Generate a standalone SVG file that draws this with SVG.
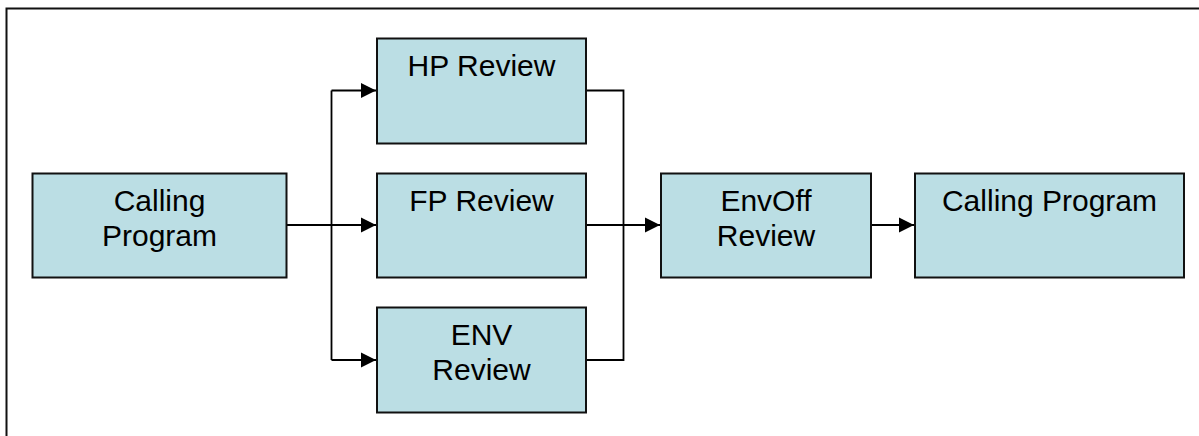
<svg xmlns="http://www.w3.org/2000/svg" width="1199" height="436" viewBox="0 0 1199 436">
  <style>
    .box { fill: #BBDEE4; stroke: #111; stroke-width: 2; }
    .lbl { font-family: "Liberation Sans", Arial, sans-serif; font-size: 30px; fill: #000; text-anchor: middle; }
    .wire { fill: none; stroke: #000; stroke-width: 1.8; }
  </style>
  <defs>
    <marker id="arrow" markerUnits="userSpaceOnUse" markerWidth="15" markerHeight="16" refX="15" refY="8" orient="auto">
      <path d="M0,0.5 L15,8 L0,15.5 Z" fill="#000"/>
    </marker>
  </defs>
  <rect width="1199" height="436" fill="#fff"/>
  <!-- page frame -->
  <rect x="6.5" y="8.5" width="1210" height="450" fill="none" stroke="#111" stroke-width="2"/>

  <g id="connectors">
    <!-- fan-out from the calling program -->
    <polyline class="wire" points="287,225 331.5,225"/>
    <polyline class="wire" points="331.5,90.5 331.5,360"/>
    <polyline class="wire" points="331.5,90.5 376,90.5" marker-end="url(#arrow)"/>
    <polyline class="wire" points="331.5,225 376,225" marker-end="url(#arrow)"/>
    <polyline class="wire" points="331.5,360 376,360" marker-end="url(#arrow)"/>
    <!-- fan-in to EnvOff -->
    <polyline class="wire" points="586,90.5 623.5,90.5 623.5,360 586,360"/>
    <polyline class="wire" points="586,225 660,225" marker-end="url(#arrow)"/>
    <!-- EnvOff to calling program -->
    <polyline class="wire" points="871,225 914,225" marker-end="url(#arrow)"/>
  </g>

  <g id="calling-program-in">
    <rect class="box" x="32.5" y="173.5" width="254" height="104"/>
    <text class="lbl" x="159.5" y="211">Calling</text>
    <text class="lbl" x="159.5" y="246">Program</text>
  </g>
  <g id="hp-review">
    <rect class="box" x="377" y="38.5" width="209" height="105"/>
    <text class="lbl" x="481.5" y="76">HP Review</text>
  </g>
  <g id="fp-review">
    <rect class="box" x="377" y="173.5" width="209" height="104"/>
    <text class="lbl" x="481.5" y="211">FP Review</text>
  </g>
  <g id="env-review">
    <rect class="box" x="377" y="307.5" width="209" height="105"/>
    <text class="lbl" x="481.5" y="345">ENV</text>
    <text class="lbl" x="481.5" y="380">Review</text>
  </g>
  <g id="envoff-review">
    <rect class="box" x="661" y="173.5" width="210" height="104"/>
    <text class="lbl" x="766" y="211">EnvOff</text>
    <text class="lbl" x="766" y="246">Review</text>
  </g>
  <g id="calling-program-out">
    <rect class="box" x="915" y="173.5" width="269" height="104"/>
    <text class="lbl" x="1049.5" y="211">Calling Program</text>
  </g>
</svg>
